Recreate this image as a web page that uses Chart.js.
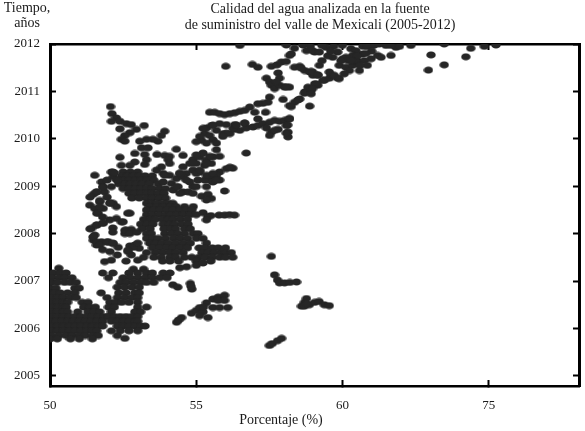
<!DOCTYPE html>
<html>
<head>
<meta charset="utf-8">
<style>
body { margin: 0; background: #fff; }
canvas { display: block; }
</style>
<script src="https://cdn.jsdelivr.net/npm/chart.js"></script>
</head>
<body>
<canvas id="chart" width="585" height="431"></canvas>
<script>
const titleLines = ['Calidad del agua analizada en la fuente', 'de suministro del valle de Mexicali (2005-2012)']
const yCaption = ['Tiempo,', 'años']
const xCaption = 'Porcentaje (%)'

// the x axis jumps from 60 to 75, so 75 sits at position 65
const xTickValues = [50, 55, 60, 65]
const xTickLabels = ['50', '55', '60', '75']
const yTickValues = [2005, 2006, 2007, 2008, 2009, 2010, 2011, 2012]

// dense areas, one row per line: year first, then the percentages on it
const lowLeftRows = [
    [2007.27, 50.3],
    [2007.17, 50.1, 50.35, 50.55],
    [2007.07, 50.05, 50.3, 50.5, 50.75],
    [2006.97, 50.05, 50.25, 50.5, 50.7, 50.9],
    [2006.85, 50.0, 50.2, 50.85, 51.0],
    [2006.75, 50.0, 50.15, 50.35, 50.6, 50.85],
    [2006.65, 50.05, 50.25, 50.45, 50.7, 50.9],
    [2006.55, 50.05, 50.25, 50.45, 50.6, 51.1, 51.3],
    [2006.45, 50.05, 50.25, 50.45, 50.55, 51.15, 51.35, 51.55],
    [2006.35, 50.05, 50.25, 50.45, 50.6, 50.95, 51.3, 51.5, 51.7],
    [2006.25, 50.05, 50.25, 50.45, 50.65, 50.85, 51.05, 51.25, 51.45, 51.65, 51.85, 52.0],
    [2006.15, 50.0, 50.2, 50.4, 50.6, 50.8, 51.0, 51.2, 51.4, 51.6, 51.8],
    [2006.05, 50.05, 50.25, 50.45, 50.65, 50.85, 51.05, 51.25, 51.45, 51.65, 51.8],
    [2005.95, 50.05, 50.25, 50.45, 50.65, 50.85, 51.05, 51.25, 51.45, 51.6],
    [2005.85, 50.05, 50.3, 50.55, 50.75, 51.0, 51.2, 51.45, 51.65],
    [2005.78, 50.0, 50.25, 50.7, 51.0, 51.45]
]

const lowMidRows = [
    [2007.25, 52.85, 53.2],
    [2007.17, 51.8, 52.15, 52.7, 53.0, 53.3, 53.5, 53.87, 54.1],
    [2007.07, 52.0, 52.5, 52.75, 53.0, 53.25, 53.5, 53.75, 54.0],
    [2006.97, 52.4, 52.6, 52.85, 53.1, 53.3, 53.55],
    [2006.87, 52.3, 52.55, 52.8, 53.05],
    [2006.75, 51.75, 52.35, 52.6, 52.9, 53.05],
    [2006.65, 51.95, 52.3, 52.55, 52.8, 53.0],
    [2006.55, 52.05, 52.25, 52.45, 52.7, 53.0],
    [2006.45, 52.0, 52.2, 53.0, 53.3],
    [2006.35, 52.1, 52.9, 53.1],
    [2006.25, 52.0, 52.2, 52.4, 52.6, 52.8, 53.0],
    [2006.15, 52.1, 52.3, 52.5, 52.7, 52.9, 53.0],
    [2006.05, 52.3, 52.5, 52.7, 52.9, 53.1, 53.25],
    [2005.95, 52.1, 52.4, 52.7, 53.0]
]

const coreRows = [
    [2009.3, 52.5, 52.75, 53.0],
    [2009.22, 52.45, 52.65, 52.85, 53.05, 53.25, 53.5],
    [2009.13, 52.3, 52.5, 52.7, 52.9, 53.1, 53.3, 53.55],
    [2009.05, 52.35, 52.55, 52.75, 52.95, 53.15, 53.4, 53.7],
    [2008.95, 52.5, 52.7, 52.9, 53.1, 53.3, 53.5, 53.75, 53.95],
    [2008.85, 52.7, 52.9, 53.1, 53.3, 53.5, 53.7, 53.9],
    [2008.75, 52.8, 53.05, 53.3, 53.5, 53.72, 53.95],
    [2008.64, 53.3, 53.5, 53.64, 53.85, 54.05, 54.2],
    [2008.57, 53.4, 53.65, 53.87, 54.1, 54.32, 54.6, 54.9],
    [2008.5, 53.3, 53.55, 53.76, 54.0, 54.2, 54.43, 54.66, 54.85],
    [2008.4, 53.3, 53.5, 53.73, 53.95, 54.12, 54.33, 54.55, 54.78, 55.0],
    [2008.3, 53.2, 53.42, 53.6, 53.85, 54.02, 54.2, 54.45, 54.7],
    [2008.2, 53.1, 53.3, 53.52, 53.87, 54.08, 54.25, 54.5, 54.72],
    [2008.1, 53.15, 53.42, 53.9, 54.13, 54.3, 54.6, 54.8],
    [2008.0, 53.3, 53.47, 53.92, 54.15, 54.37, 54.6, 54.9, 55.06],
    [2007.9, 53.3, 53.52, 53.7, 53.95, 54.22, 54.45, 54.7, 55.0, 55.23],
    [2007.8, 53.4, 53.6, 53.82, 54.05, 54.3, 54.55, 54.8, 55.35],
    [2007.7, 53.5, 53.75, 54.0, 54.2, 54.45, 54.7, 55.1, 55.3, 55.55, 55.75, 56.0],
    [2007.6, 53.3, 53.6, 53.85, 54.1, 54.3, 54.55, 55.2, 55.4, 55.6, 55.85, 56.0, 56.2],
    [2007.5, 53.2, 53.55, 53.8, 54.1, 54.3, 54.6, 54.85, 55.1, 55.3, 55.55, 55.8, 56.0, 56.25],
    [2007.42, 53.85, 54.1, 54.4, 55.0, 55.5]
]

const leftChain2008 = [
    [51.53, 2009.23], [52.1, 2009.3], [52.16, 2009.2], [51.76, 2009.09], [51.82, 2008.99], [51.59, 2008.88],
    [51.48, 2008.83], [51.87, 2008.88], [52.1, 2008.99], [51.36, 2008.6], [51.53, 2008.53], [51.65, 2008.43],
    [51.82, 2008.53], [51.7, 2008.67], [52.16, 2008.64], [52.27, 2008.57], [52.73, 2008.43], [52.27, 2008.32],
    [52.44, 2008.25], [52.04, 2008.29], [51.82, 2008.22], [51.59, 2008.18], [51.42, 2008.11], [51.53, 2007.97],
    [51.48, 2007.86], [51.59, 2007.76], [51.76, 2007.83], [51.99, 2007.83], [52.16, 2007.79], [52.33, 2007.71],
    [52.61, 2008.07], [52.78, 2008.09], [52.56, 2008.0], [52.73, 2007.74], [52.9, 2007.76], [53.05, 2007.69],
    [52.67, 2007.62], [52.78, 2007.55], [51.87, 2007.41], [52.1, 2007.44], [52.6, 2007.42], [53.0, 2007.44],
    [51.7, 2008.56], [52.05, 2008.65], [51.6, 2008.43], [51.8, 2008.35], [51.37, 2008.1], [51.6, 2008.18],
    [51.8, 2008.22], [52.15, 2008.12], [52.5, 2008.25], [52.66, 2008.43], [51.47, 2007.93], [51.6, 2007.82],
    [51.7, 2007.76], [51.95, 2007.82], [52.15, 2007.8], [51.8, 2007.66], [52.05, 2007.62], [52.3, 2007.55],
    [52.85, 2007.71], [52.66, 2007.65], [53.0, 2007.8], [52.56, 2008.07], [52.73, 2008.0], [52.97, 2008.03],
    [52.15, 2008.03], [51.95, 2009.13], [52.15, 2009.3], [51.8, 2008.98], [51.6, 2008.88], [51.37, 2008.77],
    [51.95, 2008.77], [51.7, 2008.7], [52.05, 2008.64], [52.2, 2009.28], [52.3, 2009.13]
]

const rising2010 = [
    [52.07, 2010.68], [52.12, 2010.53], [52.27, 2010.44], [52.1, 2010.37], [52.39, 2010.37], [52.61, 2010.32],
    [52.78, 2010.3], [52.39, 2010.21], [52.95, 2010.2], [53.22, 2010.28], [52.73, 2010.13], [52.56, 2010.07],
    [52.44, 2009.99], [52.56, 2009.95], [53.92, 2010.16], [53.81, 2010.07], [53.69, 2009.95], [53.52, 2009.99],
    [53.3, 2009.99], [53.07, 2009.95], [53.13, 2009.81], [53.35, 2009.81], [53.24, 2009.67], [52.39, 2009.61],
    [52.9, 2009.69], [53.66, 2009.67], [54.32, 2009.78], [53.92, 2009.65], [54.09, 2009.63], [54.55, 2009.65],
    [54.04, 2009.56], [53.3, 2009.56], [53.24, 2009.46], [52.9, 2009.51], [52.73, 2009.44], [52.44, 2009.44],
    [54.89, 2009.56], [55.12, 2009.62], [55.34, 2009.55], [55.0, 2009.48], [54.78, 2009.48], [54.55, 2009.41],
    [55.57, 2009.62], [55.29, 2009.44], [55.52, 2009.48], [54.43, 2009.27], [54.66, 2009.27], [55.12, 2009.3],
    [54.89, 2009.34], [55.8, 2009.3], [56.03, 2009.37], [55.57, 2009.23], [55.46, 2009.13], [54.09, 2009.48],
    [53.87, 2009.27], [53.64, 2009.34], [53.81, 2009.41], [56.25, 2009.38], [56.15, 2009.4]
]

const arc2009 = [
    [54.09, 2009.23], [54.32, 2009.16], [54.15, 2009.06], [54.38, 2008.99], [54.55, 2008.88], [54.21, 2008.92],
    [54.55, 2009.2], [54.89, 2008.99], [55.06, 2009.13], [55.29, 2009.13], [54.78, 2009.09], [55.18, 2008.79],
    [55.4, 2008.83], [55.52, 2008.74], [55.69, 2009.23], [55.57, 2009.09], [55.8, 2009.13], [55.35, 2009.23],
    [55.0, 2009.27], [54.72, 2008.88], [54.44, 2008.85], [53.87, 2009.09], [53.92, 2009.23], [55.97, 2008.9],
    [55.35, 2009.49], [54.89, 2009.49], [55.12, 2009.34], [54.44, 2009.27], [54.66, 2009.13], [54.32, 2008.99],
    [55.0, 2008.99], [55.57, 2009.27], [55.69, 2009.13], [55.35, 2008.99], [54.89, 2008.85], [55.35, 2008.71]
]

const outliers2008 = [
    [55.23, 2008.44], [55.4, 2008.36], [55.5, 2008.38], [55.78, 2008.39], [55.97, 2008.39], [56.14, 2008.4],
    [56.31, 2008.39], [55.35, 2008.29], [54.44, 2007.28], [54.67, 2007.3], [55.0, 2007.33], [55.23, 2007.38],
    [54.2, 2006.92], [54.37, 2006.87], [54.8, 2006.95], [54.85, 2006.83], [54.82, 2006.89]
]

const patch2006 = [
    [54.33, 2006.13], [54.5, 2006.23], [54.4, 2006.18], [54.84, 2006.32], [55.0, 2006.38], [55.12, 2006.44],
    [55.35, 2006.54], [55.57, 2006.62], [55.75, 2006.66], [55.97, 2006.7], [55.75, 2006.59], [55.97, 2006.59],
    [55.23, 2006.35], [55.4, 2006.23], [55.12, 2006.27], [56.08, 2006.44], [55.57, 2006.44], [55.8, 2006.44],
    [55.25, 2006.45], [52.3, 2005.85], [52.56, 2005.79]
]

const farPatches = [
    [57.5, 2005.64], [57.6, 2005.68], [57.78, 2005.74], [57.92, 2005.79], [57.57, 2007.52], [57.68, 2007.13],
    [57.78, 2007.02], [57.85, 2006.96], [58.02, 2006.96], [58.2, 2006.97], [58.43, 2006.98], [58.6, 2006.47],
    [58.7, 2006.55], [58.77, 2006.63], [58.87, 2006.5], [59.05, 2006.55], [59.2, 2006.57], [59.38, 2006.5],
    [59.55, 2006.48], [58.7, 2006.47], [58.78, 2006.52]
]

const band2010 = [
    [55.46, 2010.56], [55.63, 2010.56], [55.8, 2010.53], [55.97, 2010.51], [56.15, 2010.53], [56.32, 2010.55],
    [56.49, 2010.58], [56.66, 2010.6], [56.83, 2010.67], [57.0, 2010.56], [57.11, 2010.42], [57.37, 2010.56],
    [56.66, 2010.33], [55.35, 2010.23], [55.52, 2010.28], [55.29, 2010.11], [55.46, 2010.07], [55.18, 2009.97],
    [55.8, 2010.32], [56.03, 2010.3], [55.69, 2010.18], [55.92, 2010.11], [56.15, 2010.11], [56.32, 2010.2],
    [56.32, 2010.3], [56.49, 2010.18], [56.71, 2010.23], [56.94, 2010.25], [57.11, 2010.28], [57.28, 2010.32],
    [57.51, 2010.35], [57.68, 2010.39], [57.85, 2010.37], [58.02, 2010.39], [58.19, 2010.42], [58.08, 2010.28],
    [58.14, 2010.14], [58.14, 2010.04], [57.57, 2010.14], [57.51, 2010.07], [57.8, 2010.2], [57.68, 2010.18],
    [57.4, 2010.23], [55.23, 2010.22], [55.57, 2010.29], [55.12, 2010.05], [55.0, 2009.94], [55.57, 2009.98],
    [55.35, 2009.91], [55.69, 2009.91], [56.03, 2010.12], [56.26, 2010.22], [55.91, 2010.05], [55.69, 2009.77],
    [55.8, 2009.63], [55.46, 2009.63], [55.23, 2009.7], [55.0, 2009.66], [56.71, 2009.7], [56.65, 2010.33],
    [56.37, 2010.29], [58.19, 2010.43], [58.13, 2010.29], [58.08, 2010.12]
]

const band2011 = [
    [56.01, 2011.53], [56.92, 2011.57], [57.11, 2011.51], [57.57, 2011.53], [57.76, 2011.56], [57.91, 2011.62],
    [58.08, 2011.63], [58.19, 2011.76], [58.36, 2011.91], [58.25, 2011.79], [58.36, 2011.51], [58.54, 2011.53],
    [58.71, 2011.44], [58.88, 2011.41], [58.99, 2011.34], [57.8, 2011.39], [57.85, 2011.28], [57.4, 2011.28],
    [57.51, 2011.2], [57.57, 2011.13], [57.68, 2011.06], [57.85, 2011.13], [58.02, 2011.09], [58.19, 2011.09],
    [57.74, 2011.2], [57.51, 2010.88], [57.45, 2010.77], [57.28, 2010.75], [57.11, 2010.74], [57.97, 2010.83],
    [58.19, 2010.7], [58.36, 2010.77], [58.54, 2010.84], [58.71, 2010.99], [58.88, 2011.06], [59.05, 2011.16],
    [58.82, 2011.09], [58.88, 2010.69], [56.49, 2011.97], [58.08, 2011.98], [58.65, 2011.98], [58.77, 2011.86],
    [59.05, 2011.83], [58.25, 2010.68], [58.48, 2010.82], [58.7, 2010.96], [58.93, 2011.03], [59.16, 2011.13],
    [59.39, 2011.24], [59.56, 2011.28], [58.59, 2011.49], [58.93, 2011.42], [59.16, 2011.35], [59.61, 2011.35],
    [59.84, 2011.28], [58.08, 2011.1]
]

const band2012 = [
    [58.98, 2011.86], [59.21, 2011.83], [59.44, 2011.93], [59.84, 2011.83], [59.67, 2011.72], [59.21, 2011.55],
    [59.55, 2011.41], [59.72, 2011.34], [59.89, 2011.27], [58.98, 2011.41], [59.15, 2011.34], [59.33, 2011.23],
    [59.1, 2011.16], [58.98, 2011.06], [58.93, 2010.95], [60.29, 2011.9], [60.46, 2011.86], [60.35, 2011.76],
    [60.12, 2011.72], [60.01, 2011.69], [59.89, 2011.55], [60.12, 2011.51], [60.35, 2011.55], [60.52, 2011.62],
    [60.24, 2011.44], [60.06, 2011.37], [60.58, 2011.44], [60.69, 2011.79], [60.98, 2011.69], [61.2, 2011.76],
    [61.32, 2011.72], [61.66, 2011.76], [61.03, 2011.97], [61.49, 2011.97], [61.83, 2011.93], [62.34, 2011.97],
    [61.09, 2011.98], [61.26, 2012.0], [61.66, 2011.97], [61.95, 2011.95], [60.7, 2011.95], [60.0, 2011.97],
    [59.3, 2011.97], [60.5, 2011.65], [60.2, 2011.65], [59.95, 2011.65], [60.85, 2011.95],
    [59.5, 2011.75], [59.3, 2011.65], [60.75, 2011.65], [60.85, 2011.55], [60.5, 2011.75], [61.0, 2011.85],
    [60.8, 2011.8], [60.6, 2011.55], [60.3, 2011.65], [59.7, 2011.95], [58.9, 2011.95], [59.6, 2011.85]
]

const rightEdge = [
    [63.03, 2011.77], [62.94, 2011.45], [63.48, 2011.56], [63.48, 2012.0], [64.22, 2011.73], [64.39, 2011.91],
    [64.85, 2011.95], [65.25, 2011.98]
]

function rowsToPoints(rows) {
    const out = []
    rows.forEach(r => {
        r.slice(1).forEach(x => out.push({ x: x, y: r[0] }))
    })
    return out
}

function pairsToPoints(pairs) {
    return pairs.map(p => ({ x: p[0], y: p[1] }))
}

const allPoints = [
    ...rowsToPoints(lowLeftRows),
    ...rowsToPoints(lowMidRows),
    ...rowsToPoints(coreRows),
    ...pairsToPoints(leftChain2008),
    ...pairsToPoints(rising2010),
    ...pairsToPoints(arc2009),
    ...pairsToPoints(outliers2008),
    ...pairsToPoints(patch2006),
    ...pairsToPoints(farPatches),
    ...pairsToPoints(band2010),
    ...pairsToPoints(band2011),
    ...pairsToPoints(band2012),
    ...pairsToPoints(rightEdge)
]

// the scanned dots are a bit wider than tall
const dot = document.createElement('canvas')
dot.width = 10
dot.height = 8
const dotCtx = dot.getContext('2d')
dotCtx.fillStyle = '#262626'
dotCtx.beginPath()
dotCtx.ellipse(5, 4, 4.7, 3.6, 0, 0, Math.PI * 2)
dotCtx.fill()

const textFont = '14px "Liberation Serif"'
const inkColor = '#1a1a1a'
const serifTicks = { family: 'Liberation Serif', size: 13 }

const captions = {
    id: 'captions',
    afterDraw(chart) {
        const ctx = chart.ctx
        ctx.save()
        ctx.font = textFont
        ctx.fillStyle = inkColor
        ctx.textAlign = 'center'
        ctx.textBaseline = 'middle'
        ctx.fillText(titleLines[0], 320, 9)
        ctx.fillText(titleLines[1], 320, 25)
        ctx.fillText(yCaption[0], 27, 8)
        ctx.fillText(yCaption[1], 27, 23)
        ctx.fillText(xCaption, 281, 420)
        ctx.restore()
    }
}

function edgeAxis(position, tickValues, size) {
    const horizontal = position === 'top' || position === 'bottom'
    return {
        type: 'linear',
        position: position,
        min: horizontal ? 50 : 2004.785,
        max: horizontal ? 68.09 : 2012,
        border: { color: '#000', width: horizontal ? 2.5 : 3 },
        grid: { drawOnChartArea: false, tickLength: -6, tickWidth: 2, tickColor: '#000' },
        ticks: { display: false },
        afterBuildTicks(scale) {
            scale.ticks = tickValues.map(v => ({ value: v }))
        },
        afterFit(scale) {
            if (horizontal) scale.height = size
            else scale.width = size
        }
    }
}

const xAxis = edgeAxis('bottom', xTickValues, 45)
xAxis.ticks = {
    display: true,
    padding: 18,
    maxRotation: 0,
    color: inkColor,
    font: serifTicks,
    callback: v => xTickLabels[xTickValues.indexOf(v)]
}

const yAxis = edgeAxis('left', yTickValues, 50)
yAxis.ticks = {
    display: true,
    padding: 16,
    color: inkColor,
    font: serifTicks,
    callback: v => String(v)
}

new Chart(document.getElementById('chart'), {
    type: 'scatter',
    data: {
        datasets: [{
            label: 'Calidad del agua',
            data: allPoints,
            pointStyle: dot,
            pointRadius: 5,
            pointHoverRadius: 5,
            backgroundColor: '#262626'
        }]
    },
    options: {
        responsive: false,
        animation: false,
        layout: { padding: 0 },
        plugins: {
            legend: { display: false },
            tooltip: { enabled: false }
        },
        scales: {
            x: xAxis,
            y: yAxis,
            xTop: edgeAxis('top', xTickValues, 44),
            yRight: edgeAxis('right', yTickValues, 5)
        }
    },
    plugins: [captions]
})
</script>
</body>
</html>
